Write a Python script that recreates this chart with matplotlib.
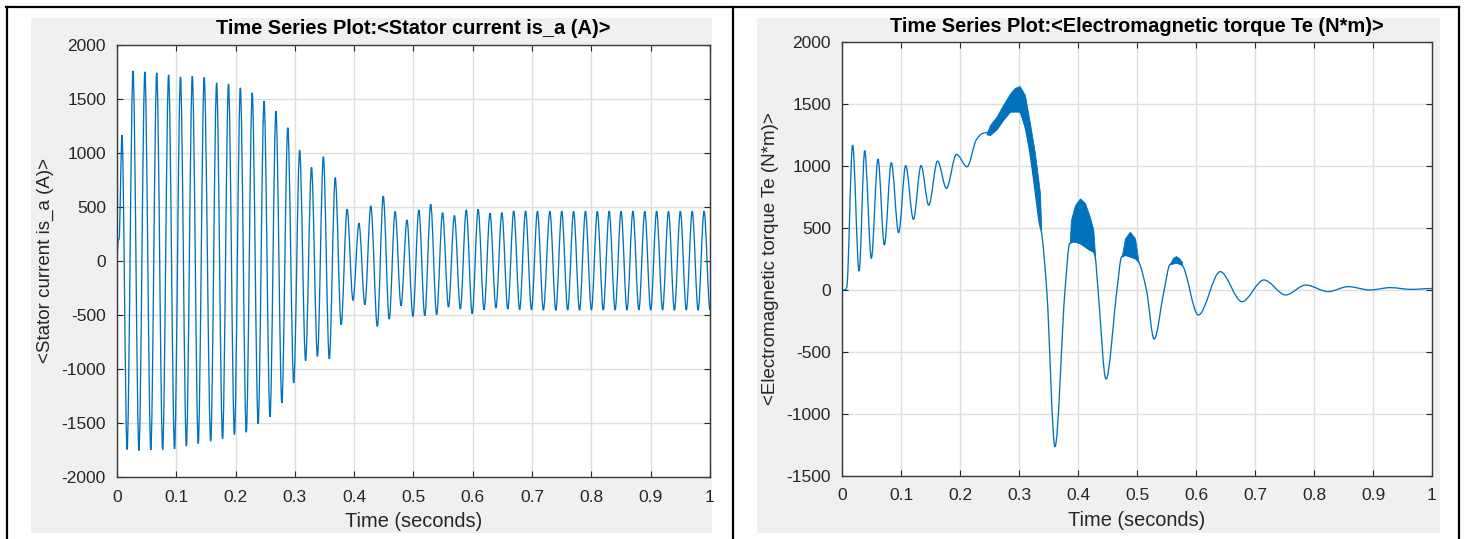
import numpy as np
import matplotlib
matplotlib.use("Agg")
import matplotlib.pyplot as plt
from matplotlib.path import Path
from matplotlib.patches import PathPatch, Rectangle
from matplotlib.lines import Line2D

plt.rcParams['font.family'] = ['Liberation Sans', 'DejaVu Sans']

# ---- data ----
# stator current: turning points (peaks / troughs) of the 50 Hz wave
cur_t = [0.0, 0.002, 0.0035, 0.0084,
         0.017, 0.027, 0.037, 0.047, 0.057, 0.067, 0.077, 0.087, 0.097, 0.107,
         0.117, 0.127, 0.137, 0.147, 0.158, 0.168, 0.178, 0.188, 0.198, 0.208,
         0.218, 0.228, 0.238, 0.248, 0.258, 0.268, 0.278, 0.288, 0.298, 0.308,
         0.318, 0.328, 0.338, 0.348, 0.358, 0.368, 0.378, 0.388, 0.398, 0.408,
         0.418, 0.428, 0.439, 0.449, 0.459, 0.469, 0.479, 0.489, 0.499, 0.509,
         0.519, 0.529, 0.539, 0.549, 0.559, 0.569, 0.579, 0.589, 0.599, 0.609,
         0.619, 0.629, 0.639, 0.649, 0.659, 0.669, 0.679, 0.689, 0.699, 0.709,
         0.719, 0.730, 0.740, 0.750, 0.760, 0.770, 0.780, 0.790, 0.800, 0.810,
         0.820, 0.830, 0.840, 0.850, 0.860, 0.870, 0.880, 0.890, 0.900, 0.910,
         0.920, 0.930, 0.940, 0.950, 0.960, 0.970, 0.980, 0.990, 1.000]
cur_v = [20, 190, 200, 1164,
         -1746, 1758, -1755, 1749, -1750, 1740, -1746, 1721, -1740, 1703,
         -1715, 1709, -1690, 1697, -1669, 1647, -1648, 1638, -1607, 1601,
         -1586, 1555, -1506, 1478, -1444, 1386, -1315, 1232, -1130, 1025,
         -924, 866, -884, 964, -908, 770, -591, 478, -366, 348,
         -406, 508, -607, 600, -539, 456, -416, 379, -514, 471,
         -508, 524, -499, 446, -428, 419, -446, 471, -490, 478,
         -453, 441, -437, 446, -446, 462, -453, 462, -453, 460,
         -455, 458, -458, 460, -455, 458, -457, 460, -455, 458,
         -456, 460, -455, 458, -457, 460, -455, 458, -456, 460,
         -455, 458, -457, 460, -455, 458, -456, 460, -455]

# electromagnetic torque: main trace
te_t = [0.0, 0.006, 0.008, 0.018, 0.029, 0.0385, 0.0497, 0.061, 0.0718, 0.0836,
        0.096, 0.108, 0.121, 0.134, 0.147, 0.162, 0.177, 0.194, 0.212, 0.228,
        0.238, 0.250, 0.262, 0.273, 0.285, 0.301, 0.310, 0.3186, 0.327, 0.3356,
        0.3375, 0.347, 0.361, 0.378, 0.386, 0.395, 0.4034, 0.412, 0.420, 0.426,
        0.429, 0.434, 0.4475, 0.466, 0.474, 0.4797, 0.488, 0.4966, 0.5025, 0.516,
        0.529, 0.546, 0.556, 0.566, 0.576, 0.604, 0.641, 0.678,
        0.715, 0.752, 0.786, 0.824, 0.858, 0.895, 0.929, 0.965, 1.0]
te_v = [0, 5, 20, 1169, 153, 1124, 255, 1056, 363, 1027,
        462, 1003, 570, 1003, 685, 1040, 820, 1094, 994, 1215,
        1262, 1275, 1300, 1371, 1438, 1438, 1317, 1102, 806, 511,
        480, 0, -1263, 0, 376, 390, 376, 349, 323, 309,
        269, 0, -718, 0, 269, 282, 269, 255, 228, 0,
        -395, 0, 206, 220, 202, -202, 148, -94,
        81, -40, 40, -13, 27, 0, 19, 5, 12]

# high-frequency ripple bands of the torque (upper / lower envelope)
band_t = [[0.245, 0.251, 0.262, 0.273, 0.285, 0.293, 0.301, 0.310, 0.3186, 0.327, 0.3356, 0.3375],
          [0.386, 0.388, 0.395, 0.4034, 0.412, 0.420, 0.426, 0.429],
          [0.474, 0.4797, 0.488, 0.4966, 0.5025],
          [0.556, 0.561, 0.566, 0.571, 0.576]]
band_hi = [[1262, 1331, 1398, 1492, 1586, 1630, 1645, 1573, 1344, 1102, 780, 500],
           [376, 565, 685, 739, 699, 591, 484, 269],
           [269, 417, 470, 417, 228],
           [215, 258, 274, 258, 228]]
band_lo = [[1255, 1250, 1296, 1371, 1438, 1440, 1438, 1317, 1102, 806, 511, 480],
           [376, 390, 390, 376, 349, 323, 309, 269],
           [269, 282, 269, 255, 228],
           [206, 214, 220, 212, 202]]

x_ticks = [0, 0.1, 0.2, 0.3, 0.4, 0.5, 0.6, 0.7, 0.8, 0.9, 1.0]
x_labels = ['0', '0.1', '0.2', '0.3', '0.4', '0.5', '0.6', '0.7', '0.8', '0.9', '1']
cur_yticks = [-2000, -1500, -1000, -500, 0, 500, 1000, 1500, 2000]
te_yticks = [-1500, -1000, -500, 0, 500, 1000, 1500, 2000]

BLUE = '#0072BD'
GRAY = '#262626'


def smooth_path(t, v):
    # monotone cubic (pchip style) drawn as bezier segments through the points
    t = np.asarray(t, float)
    v = np.asarray(v, float)
    h = np.diff(t)
    d = np.diff(v) / h
    m = np.zeros_like(v)
    for i in range(1, len(v) - 1):
        if d[i - 1] * d[i] > 0:
            w1 = 2 * h[i] + h[i - 1]
            w2 = h[i] + 2 * h[i - 1]
            m[i] = (w1 + w2) / (w1 / d[i - 1] + w2 / d[i])
    verts = [(t[0], v[0])]
    codes = [Path.MOVETO]
    for i in range(len(t) - 1):
        verts += [(t[i] + h[i] / 3, v[i] + m[i] * h[i] / 3),
                  (t[i + 1] - h[i] / 3, v[i + 1] - m[i + 1] * h[i] / 3),
                  (t[i + 1], v[i + 1])]
        codes += [Path.CURVE4] * 3
    return Path(verts, codes)


def style_axes(ax, yticks, ylim, ylabel, title, title_y):
    ax.set_xlim(0, 1)
    ax.set_ylim(*ylim)
    ax.set_xticks(x_ticks)
    ax.set_xticklabels(x_labels)
    ax.set_yticks(yticks)
    ax.set_yticklabels([str(y) for y in yticks])
    ax.set_axisbelow(True)
    ax.grid(True, color='#dedede', lw=1.0)
    ax.tick_params(direction='in', length=4, width=0.8, top=True, right=True,
                   colors=GRAY, labelsize=12.5, pad=8)
    ax.tick_params(axis='x', pad=9)
    for s in ax.spines.values():
        s.set_color('#3a3a3a')
        s.set_linewidth(1.0)
    ax.set_xlabel('Time (seconds)', fontsize=14.4, color=GRAY, va='center')
    ax.xaxis.set_label_coords(0.5, -0.102)
    ax.set_ylabel(ylabel, fontsize=13.5, color=GRAY, va='center')
    ax.yaxis.set_label_coords(-0.121, 0.5)
    bb = ax.get_position()
    fig.text((bb.x0 + bb.x1) / 2, title_y, title, fontsize=14.4, fontweight='bold',
             ha='center', va='center', color='black')


fig = plt.figure(figsize=(14.67, 5.39), dpi=100)

# gray panel backgrounds and the black frame
for x0, w in [(31 / 1467, 681 / 1467), (757 / 1467, 683 / 1467)]:
    fig.add_artist(Rectangle((x0, 6 / 539), w, 515 / 539, transform=fig.transFigure,
                             fc='#f0f0f0', ec='none', zorder=0))
fig.add_artist(Line2D([6 / 1467, 1459 / 1467], [532 / 539, 532 / 539],
                      transform=fig.transFigure, color='black', lw=1.6))
for xv in [6.5, 732.5, 1459]:
    fig.add_artist(Line2D([xv / 1467, xv / 1467], [0, 532 / 539],
                          transform=fig.transFigure, color='black', lw=1.6))

ax1 = fig.add_axes([117 / 1467, 62 / 539, 593 / 1467, 432.3 / 539])
ax2 = fig.add_axes([842 / 1467, 63 / 539, 590 / 1467, 434 / 539])

ax1.add_patch(PathPatch(smooth_path(cur_t, cur_v), fill=False, ec=BLUE, lw=0.95))
style_axes(ax1, cur_yticks, (-2000, 2000), '<Stator current is_a (A)>',
           'Time Series Plot:<Stator current is_a (A)>', 1 - 29 / 539)

for bt, bh, bl in zip(band_t, band_hi, band_lo):
    ax2.fill_between(bt, bl, bh, color=BLUE, lw=0.6)
ax2.add_patch(PathPatch(smooth_path(te_t, te_v), fill=False, ec=BLUE, lw=0.95))
style_axes(ax2, te_yticks, (-1500, 2000), '<Electromagnetic torque Te (N*m)>',
           'Time Series Plot:<Electromagnetic torque Te (N*m)>', 1 - 26 / 539)

fig.savefig('out.png', dpi=100)
